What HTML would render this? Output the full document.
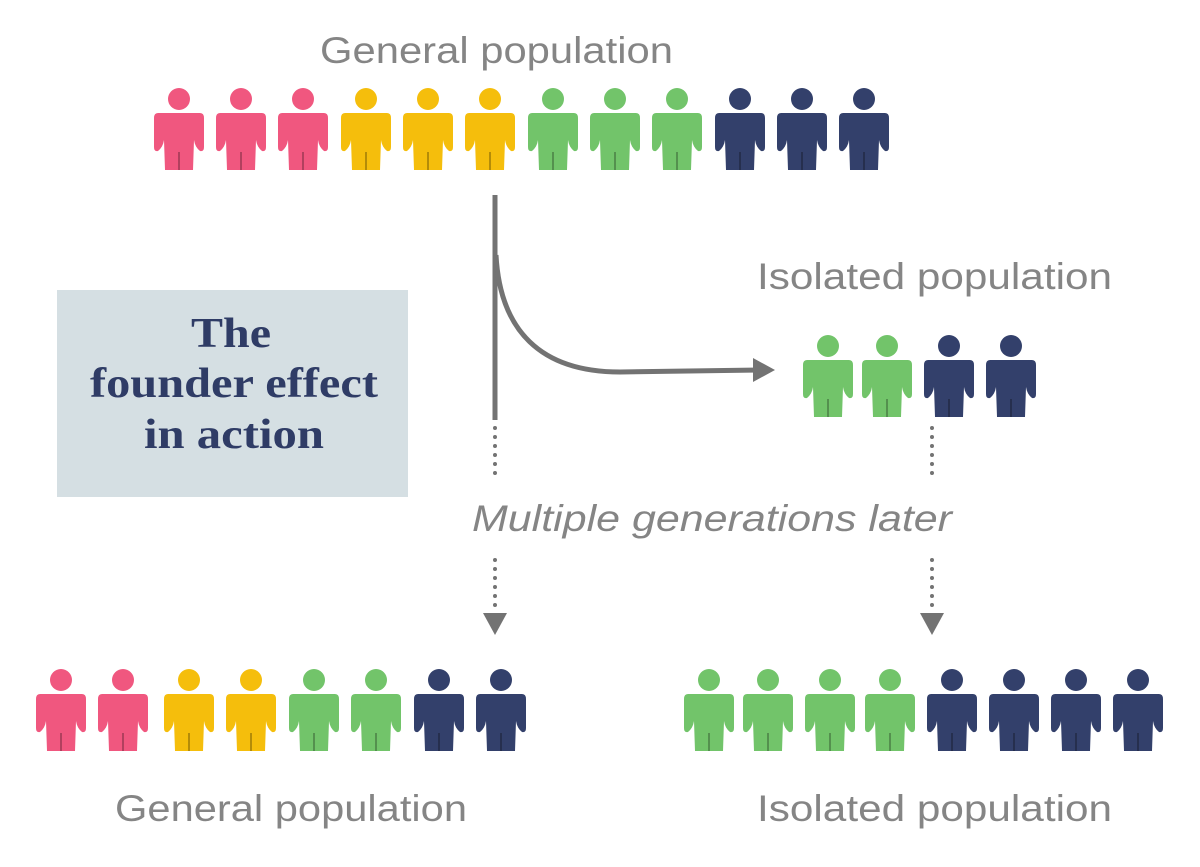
<!DOCTYPE html>
<html><head><meta charset="utf-8"><style>
html,body{margin:0;padding:0;background:#fff}
</style></head><body>
<svg width="1200" height="862" viewBox="0 0 1200 862" xmlns="http://www.w3.org/2000/svg">
<defs>
<g id="p">
<circle cx="0" cy="11" r="11"/>
<path d="M-21,25 H21 Q25,25 25,30 L25,59 Q25,64 21,63 Q16,59 15,52 L14,82 H-14 L-15,52 Q-16,59 -21,63 Q-25,64 -25,59 L-25,30 Q-25,25 -21,25Z"/>
<line x1="0" y1="64" x2="0" y2="82" stroke="#000" stroke-opacity="0.35" stroke-width="1.5"/>
</g>
</defs>
<rect x="57" y="290" width="351" height="207" fill="#d5dfe3"/>
<g font-family="Liberation Serif, serif" font-weight="bold" font-size="42" fill="#2f3c66">
<text x="191" y="347" textLength="80" lengthAdjust="spacingAndGlyphs">The</text>
<text x="90" y="397" textLength="288" lengthAdjust="spacingAndGlyphs">founder effect</text>
<text x="144" y="448" textLength="180" lengthAdjust="spacingAndGlyphs">in action</text>
</g>
<g font-family="Liberation Sans, sans-serif" font-size="37" fill="#858585">
<text x="320" y="63" textLength="353" lengthAdjust="spacingAndGlyphs">General population</text>
<text x="757" y="289" textLength="355" lengthAdjust="spacingAndGlyphs">Isolated population</text>
<text x="115" y="821" textLength="352" lengthAdjust="spacingAndGlyphs">General population</text>
<text x="757" y="821" textLength="355" lengthAdjust="spacingAndGlyphs">Isolated population</text>
<text x="472" y="531" font-style="italic" textLength="480" lengthAdjust="spacingAndGlyphs">Multiple generations later</text>
</g>
<g stroke="#737373" fill="none">
<line x1="495" y1="195" x2="495" y2="420" stroke-width="5"/>
<path d="M496,255 C500,330 540,372 620,372 L760,370" stroke-width="5"/>
<line x1="495" y1="428" x2="495" y2="482" stroke-width="4" stroke-dasharray="0 9" stroke-linecap="round"/>
<line x1="495" y1="560" x2="495" y2="612" stroke-width="4" stroke-dasharray="0 9" stroke-linecap="round"/>
<line x1="932" y1="428" x2="932" y2="482" stroke-width="4" stroke-dasharray="0 9" stroke-linecap="round"/>
<line x1="932" y1="560" x2="932" y2="612" stroke-width="4" stroke-dasharray="0 9" stroke-linecap="round"/>
</g>
<g fill="#737373">
<polygon points="753,358 775,370 753,382"/>
<polygon points="483,613 507,613 495,635"/>
<polygon points="920,613 944,613 932,635"/>
</g>
<g fill="#f0577f"><use href="#p" x="179" y="88"/><use href="#p" x="241" y="88"/><use href="#p" x="303" y="88"/>
<use href="#p" x="61" y="669"/><use href="#p" x="123" y="669"/></g>
<g fill="#f5be0c"><use href="#p" x="366" y="88"/><use href="#p" x="428" y="88"/><use href="#p" x="490" y="88"/>
<use href="#p" x="189" y="669"/><use href="#p" x="251" y="669"/></g>
<g fill="#72c46a"><use href="#p" x="553" y="88"/><use href="#p" x="615" y="88"/><use href="#p" x="677" y="88"/>
<use href="#p" x="828" y="335"/><use href="#p" x="887" y="335"/>
<use href="#p" x="314" y="669"/><use href="#p" x="376" y="669"/>
<use href="#p" x="709" y="669"/><use href="#p" x="768" y="669"/><use href="#p" x="830" y="669"/><use href="#p" x="890" y="669"/></g>
<g fill="#33406b"><use href="#p" x="740" y="88"/><use href="#p" x="802" y="88"/><use href="#p" x="864" y="88"/>
<use href="#p" x="949" y="335"/><use href="#p" x="1011" y="335"/>
<use href="#p" x="439" y="669"/><use href="#p" x="501" y="669"/>
<use href="#p" x="952" y="669"/><use href="#p" x="1014" y="669"/><use href="#p" x="1076" y="669"/><use href="#p" x="1138" y="669"/></g>
</svg>
</body></html>
